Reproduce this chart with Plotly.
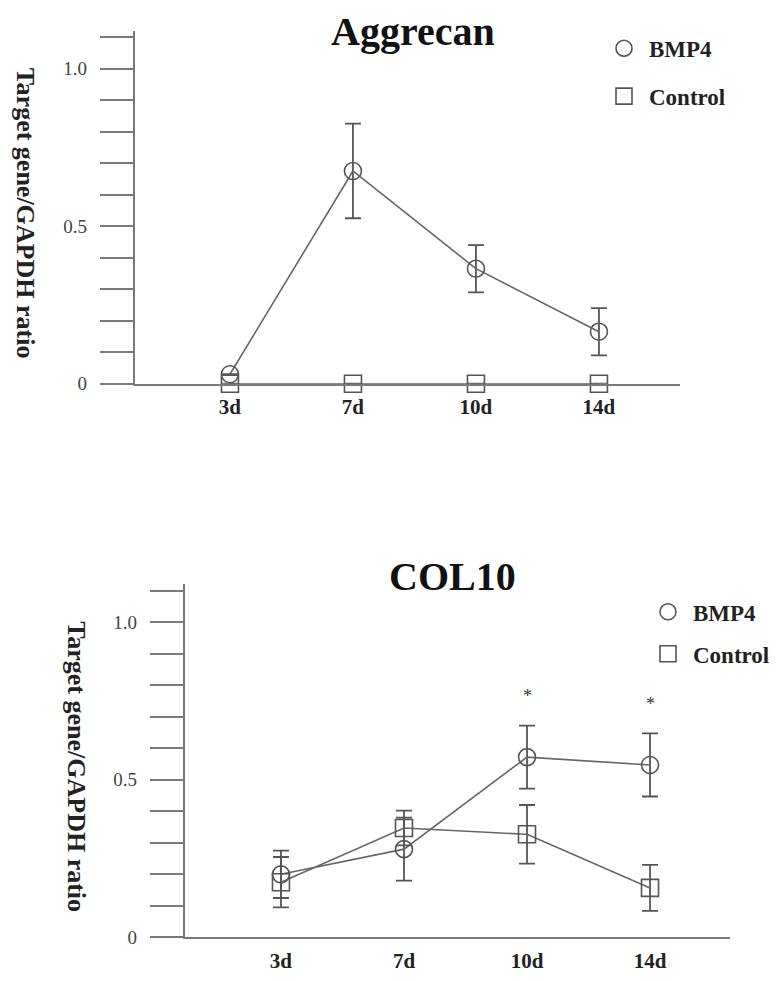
import plotly.graph_objects as go

# ---------------- data ----------------
days = ["3d", "7d", "10d", "14d"]

agg_bmp4 = [0.03, 0.675, 0.365, 0.165]
agg_bmp4_err = [0.0, 0.15, 0.075, 0.075]
agg_ctrl = [0.0, 0.0, 0.0, 0.0]
agg_ctrl_err = [0.0, 0.0, 0.0, 0.0]

col_bmp4 = [0.20, 0.28, 0.572, 0.547]
col_bmp4_err = [0.075, 0.10, 0.10, 0.10]
col_ctrl = [0.175, 0.347, 0.327, 0.157]
col_ctrl_err = [0.08, 0.055, 0.093, 0.073]

star_days = ["10d", "14d"]
star_y = [0.765, 0.74]

ytick_vals = [0, 0.1, 0.2, 0.3, 0.4, 0.5, 0.6, 0.7, 0.8, 0.9, 1.0, 1.1]
ytick_text = ["0", "", "", "", "", "0.5", "", "", "", "", "1.0", ""]

panel_titles = ["Aggrecan", "COL10"]
ytitle = "Target gene/GAPDH ratio"
series_names = ["BMP4", "Control"]

# ---------------- style ----------------
OFF = 8                      # page body margin
W, H = 783 - OFF, 981 - OFF
SERIF = "Liberation Serif, Times New Roman, serif"
LINE_C = "#666666"
MARK_C = "#555555"
AX_C = "#7a7a7a"
SYMS = ["circle-open", "square-open"]


def px_x(p):
    return (p - OFF) / W


def px_y(p):
    return 1 - (p - OFF) / H


fig = go.Figure()


def add_panel(xa, ya, bmp, bmp_e, ctl, ctl_e, legend):
    for name, vals, errs, sym in [
        (series_names[0], bmp, bmp_e, SYMS[0]),
        (series_names[1], ctl, ctl_e, SYMS[1]),
    ]:
        fig.add_trace(go.Scatter(
            x=days, y=vals, xaxis=xa, yaxis=ya, name=name,
            mode="lines+markers", showlegend=False,
            line=dict(color=LINE_C, width=1.6),
            marker=dict(symbol=sym, size=17, color=MARK_C, line=dict(width=1.6, color=MARK_C)),
            error_y=dict(type="data", array=errs, visible=True, color=MARK_C,
                         thickness=1.8, width=8),
            cliponaxis=False,
        ))
    # legend entries (marker only, like the original key)
    for name, sym in zip(series_names, SYMS):
        fig.add_trace(go.Scatter(
            x=[None], y=[None], xaxis=xa, yaxis=ya, name=name, mode="markers",
            legend=legend, legendgroup=legend + name,
            marker=dict(symbol=sym, size=20, color=MARK_C, line=dict(width=1.6, color=MARK_C)),
        ))


add_panel("x", "y", agg_bmp4, agg_bmp4_err, agg_ctrl, agg_ctrl_err, "legend")
add_panel("x2", "y2", col_bmp4, col_bmp4_err, col_ctrl, col_ctrl_err, "legend2")

xcommon = dict(
    type="category", showgrid=False, zeroline=False, showline=True,
    linecolor=AX_C, linewidth=2.2, ticks="outside", ticklen=3,
    tickcolor="rgba(0,0,0,0)",
    tickfont=dict(family=SERIF, size=21, color="#222222", weight="bold"),
)
ycommon = dict(
    range=[0, 1.12], showgrid=False, zeroline=False, showline=True,
    linecolor=AX_C, linewidth=2.2, ticks="outside", ticklen=33,
    tickwidth=2.2, tickcolor=AX_C, tickvals=ytick_vals, ticktext=ytick_text,
    tickfont=dict(family=SERIF, size=19, color="#444444"),
    ticklabelstandoff=9,
)
legcommon = dict(
    xanchor="left", yanchor="top",
    font=dict(family=SERIF, size=23, color="#222222", weight="bold"),
    itemwidth=40, bgcolor="rgba(0,0,0,0)",
    traceorder="grouped", itemsizing="trace",
)

fig.update_layout(
    width=W, height=H,
    margin=dict(l=0, r=0, t=0, b=0),
    paper_bgcolor="white", plot_bgcolor="white",
    xaxis=dict(domain=[px_x(135), px_x(680)], anchor="y",
               range=[-0.772, 3.659], **xcommon),
    yaxis=dict(domain=[px_y(388), px_y(31)], anchor="x", **ycommon),
    xaxis2=dict(domain=[px_x(185), px_x(730)], anchor="y2",
                range=[-0.78, 3.65], **xcommon),
    yaxis2=dict(domain=[px_y(948), px_y(591)], anchor="x2", **ycommon),
    legend=dict(x=px_x(599), y=px_y(27), tracegroupgap=15, **legcommon),
    legend2=dict(x=px_x(643), y=px_y(597), tracegroupgap=9, **legcommon),
    showlegend=True,
)

# panel titles
for title, xc, yc in [(panel_titles[0], 413, 32), (panel_titles[1], 452, 583)]:
    fig.add_annotation(text=f"<b>{title}</b>", x=px_x(xc), y=px_y(yc),
                       xref="paper", yref="paper", showarrow=False,
                       xanchor="center", yanchor="middle",
                       font=dict(family=SERIF, size=40, color="#111111"))

# y-axis titles (reading downward)
for xc, yc in [(25, 215), (77, 775)]:
    fig.add_annotation(text=f"<b>{ytitle}</b>", x=px_x(xc), y=px_y(yc),
                       xref="paper", yref="paper", showarrow=False,
                       textangle=90, xanchor="center", yanchor="middle",
                       font=dict(family=SERIF, size=26, color="#222222"))

# significance marks
for d, s in zip(star_days, star_y):
    fig.add_annotation(text="*", x=d, y=s, xref="x2", yref="y2", showarrow=False,
                       yanchor="middle", font=dict(family=SERIF, size=18, color="#333333"))

fig.write_html("out.html")
